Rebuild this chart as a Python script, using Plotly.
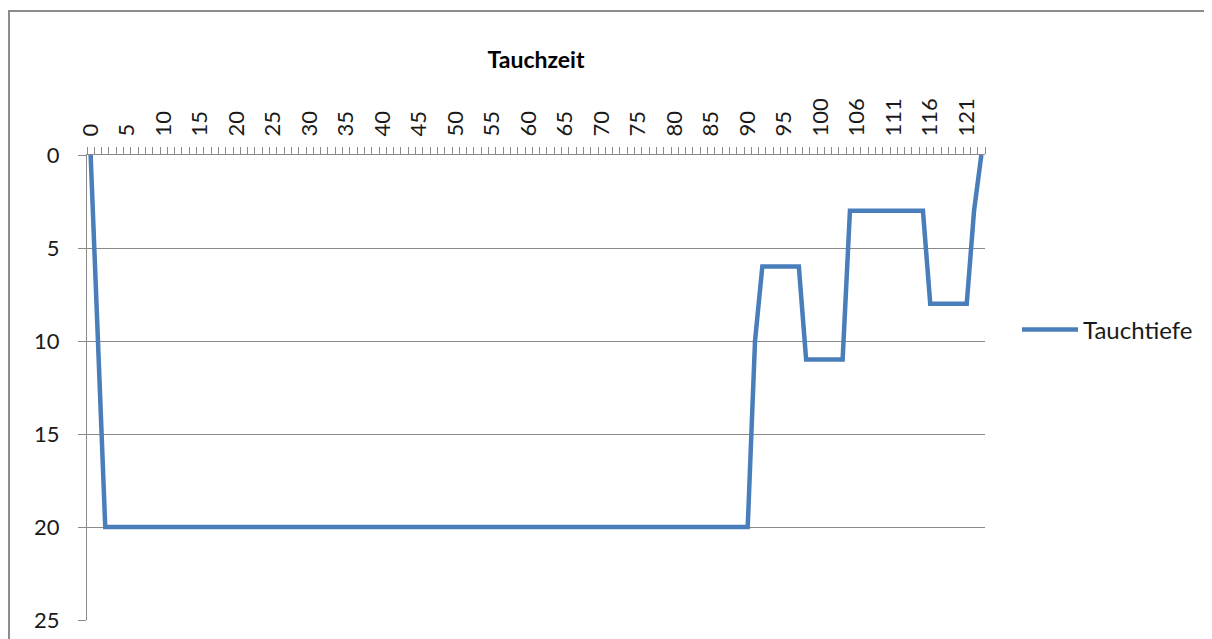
import plotly.graph_objects as go

# Tauchzeit (minutes) – category labels as shown in the chart
time_min = list(range(0, 101)) + list(range(102, 124))

# Tauchtiefe (m), one value per category
depth = [
    0, 10, 20, 20, 20, 20, 20, 20, 20, 20,
    20, 20, 20, 20, 20, 20, 20, 20, 20, 20,
    20, 20, 20, 20, 20, 20, 20, 20, 20, 20,
    20, 20, 20, 20, 20, 20, 20, 20, 20, 20,
    20, 20, 20, 20, 20, 20, 20, 20, 20, 20,
    20, 20, 20, 20, 20, 20, 20, 20, 20, 20,
    20, 20, 20, 20, 20, 20, 20, 20, 20, 20,
    20, 20, 20, 20, 20, 20, 20, 20, 20, 20,
    20, 20, 20, 20, 20, 20, 20, 20, 20, 20,
    20, 10, 6, 6, 6, 6, 6, 6, 11, 11,
    11, 11, 11, 11, 3, 3, 3, 3, 3, 3,
    3, 3, 3, 3, 3, 8, 8, 8, 8, 8,
    8, 3, 0,
]

y_ticks = [0, 5, 10, 15, 20, 25]
label_step = 5

cats = [str(t) for t in time_min]
tick_text = [c if i % label_step == 0 else "" for i, c in enumerate(cats)]

FONT = "Lato"
GRID = "#8a8a8a"
OFF = 8  # page body margin

fig = go.Figure()
fig.add_trace(go.Scatter(
    x=cats, y=depth, mode="lines", name="Tauchtiefe",
    line=dict(color="#4a7ebb", width=4.5),
))

W, H = 1212, 639
L = 87 - OFF
T = 155 - OFF
R = W - (985 - OFF)
B = H - (620 - OFF)
pw, ph = W - L - R, H - T - B

def px_x(p):
    return (p - OFF - L) / pw

def px_y(p):
    return (H - B - (p - OFF)) / ph

fig.update_layout(
    width=W, height=H,
    margin=dict(l=L, r=R, t=T, b=B, pad=0),
    paper_bgcolor="white", plot_bgcolor="white",
    font=dict(family=FONT, size=22, color="#1a1a1a"),
    title=dict(text="<b>Tauchzeit</b>", x=0.5, xref="paper", xanchor="center",
               y=1 - (60 - OFF) / H, yref="container", yanchor="middle",
               font=dict(family=FONT, size=23, color="#000")),
    showlegend=True,
    legend=dict(x=px_x(1017), xanchor="left", y=px_y(330), yanchor="middle",
                font=dict(family=FONT, size=24, color="#1a1a1a"),
                itemwidth=56, bgcolor="rgba(0,0,0,0)"),
)

fig.update_xaxes(
    type="category", side="top", range=[-0.5, len(cats) - 0.5],
    tickmode="array", tickvals=cats, ticktext=tick_text,
    tickson="boundaries", ticks="outside", ticklen=7, tickcolor=GRID, tickwidth=1,
    tickangle=-90, ticklabelstandoff=13,
    showline=True, linecolor=GRID, linewidth=1, showgrid=False, zeroline=False,
    tickfont=dict(family=FONT, size=22, color="#1a1a1a"),
)
fig.update_yaxes(
    range=[25, 0], tickmode="array", tickvals=y_ticks,
    ticks="outside", ticklen=8, tickcolor=GRID, tickwidth=1, ticklabelstandoff=14,
    showline=True, linecolor=GRID, linewidth=1,
    showgrid=True, gridcolor=GRID, gridwidth=1, zeroline=False,
    tickfont=dict(family=FONT, size=22, color="#1a1a1a"),
)

# chart-area frame (left and top edges visible in the crop)
fig.add_shape(type="rect", xref="paper", yref="paper",
              x0=px_x(9), x1=px_x(W + 20),
              y0=px_y(H + 20), y1=px_y(11),
              line=dict(color="#8c8c8c", width=2), layer="above")

fig.write_html("out.html")
